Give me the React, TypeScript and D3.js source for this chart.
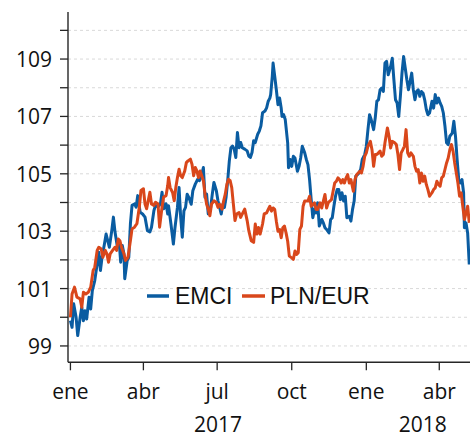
import { useMemo } from "react";
import * as d3 from "d3";

// day offsets from 1 Jan 2017
const emciDays = [0, 2, 4, 7, 9, 12, 14, 16, 18, 20, 23, 25, 27, 30, 33, 35, 37, 39, 42, 44, 46, 48, 51, 53, 55, 58, 60, 62, 64, 66, 67, 70, 72, 74, 76, 79, 81, 83, 86, 89, 92, 95, 98, 100, 103, 105, 108, 111, 113, 115, 118, 120,
  121, 124, 127, 129, 132, 134, 136, 138, 140, 142, 144, 146, 149, 151, 154, 157, 159, 161, 164, 166, 168, 170, 173, 175, 177, 180, 182, 184, 186, 188, 190, 192, 194, 196, 198, 200, 202, 204, 206, 208, 210, 212, 215, 218, 220, 222, 224, 226, 228, 231, 233, 235, 237, 240,
  242, 244, 246, 247, 249, 250, 252, 254, 256, 258, 260, 261, 263, 265, 268, 269, 271, 273, 275, 277, 280, 282, 284, 286, 289, 291, 293, 295, 297, 299, 301, 303, 305, 307, 310, 312, 314, 316, 319, 321, 323, 325, 327, 329, 331, 333, 335, 337, 339, 341, 344, 346, 348, 350, 352, 354, 356, 358, 360,
  363, 365, 367, 369, 371, 374, 376, 378, 380, 382, 384, 386, 388, 390, 392, 395, 397, 399, 401, 403, 405, 407, 409, 411, 413, 415, 417, 419, 421, 423, 425, 427, 429, 431, 433, 435, 437, 439, 441, 443, 446, 448, 450, 452, 454, 456, 458, 460, 462, 464, 466, 468, 471, 473, 475, 477, 479, 481, 483, 485, 486, 488, 490, 492];
const emciValues = [99.88, 99.65, 100.47, 100.0, 99.36, 100.0, 100.35, 99.88, 100.23, 99.94, 100.7, 100.29, 100.93, 101.28, 101.86, 102.27, 101.63, 102.09, 102.56, 102.9, 102.67, 102.44, 103.02, 103.49, 102.97, 102.44, 102.67, 101.92, 102.5, 102.21, 101.34, 101.98, 102.09, 103.26, 103.9, 103.95, 103.84, 104.24, 103.66, 103.6, 103.49, 103.02, 102.97, 103.14, 103.72, 103.9, 103.84, 103.95, 104.36, 103.78, 103.95, 103.6,
  103.89, 103.25, 102.55, 103.13, 103.83, 104.52, 103.48, 102.79, 103.71, 103.83, 104.29, 104.18, 103.94, 104.41, 104.64, 104.81, 104.76, 104.87, 105.22, 104.18, 104.29, 103.6, 103.83, 104.29, 104.7, 104.41, 104.06, 103.83, 103.6, 103.94, 103.83, 104.18, 104.76, 105.45, 105.91, 105.97, 105.86, 105.57, 106.44, 105.91, 106.09, 105.91, 105.86, 105.8, 105.62, 105.57, 105.74, 106.15, 106.09, 106.38, 106.49, 106.67, 107.13, 107.19,
  107.3, 107.53, 107.64, 107.76, 108.4, 108.86, 108.4, 107.93, 107.41, 107.64, 107.29, 107.0, 107.06, 106.89, 106.08, 105.21, 105.5, 105.26, 105.61, 105.55, 105.09, 105.26, 105.55, 105.96, 105.73, 105.5, 105.32, 104.8, 104.1, 103.47, 103.76, 103.64, 103.99, 103.18, 103.41, 103.29, 103.12, 103.06, 102.94, 103.41, 103.47, 103.87, 104.22, 104.45, 104.45, 104.1, 104.34, 104.05, 104.22, 103.47, 103.52, 103.35, 103.76, 104.05, 104.92, 104.97, 105.03, 105.15, 105.5,
  105.67, 105.96, 106.54, 107.06, 106.89, 106.54, 106.95, 107.53, 107.58, 107.93, 107.99, 107.87, 108.86, 108.92, 108.45, 108.74, 109.03, 108.28, 107.58, 107.47, 107.0, 107.7, 108.51, 109.09, 108.69, 108.28, 107.93, 108.22, 108.51, 107.93, 107.58, 107.87, 107.93, 107.7, 107.87, 107.81, 107.58, 107.24, 107.06, 107.12, 107.53, 107.29, 107.76, 107.47, 107.64, 107.47, 107.35, 107.12, 106.66, 106.08, 106.02, 106.31, 106.42, 106.83, 106.31, 105.5, 104.8, 104.68, 104.8, 104.34, 103.12, 103.29, 102.94, 101.84];

const plnDays = [0, 2, 5, 8, 12, 14, 16, 19, 22, 25, 28, 30, 33, 35, 38, 40, 43, 45, 47, 49, 52, 55, 57, 59, 61, 63, 66, 68, 71, 74, 76, 79, 82, 85, 87, 90, 92, 94, 96, 98, 100, 103, 105, 108, 110, 113, 115, 118, 120,
  121, 123, 126, 128, 130, 132, 134, 136, 138, 141, 143, 145, 148, 150, 152, 154, 156, 158, 160, 162, 164, 166, 168, 170, 172, 174, 177, 180, 182, 184, 187, 189, 191, 193, 195, 197, 199, 201, 203, 205, 208, 210, 212, 215, 218, 220, 223, 226, 228, 230, 232, 234, 237, 239,
  242, 244, 246, 248, 250, 252, 254, 256, 258, 260, 262, 264, 266, 268, 270, 273, 275, 277, 279, 281, 283, 285, 287, 289, 291, 293, 295, 297, 299, 301, 303, 305, 308, 310, 312, 314, 316, 318, 320, 322, 324, 326, 328, 330, 332, 334, 336, 338, 340, 342, 344, 346, 349, 351, 353, 355, 357, 359, 361,
  363, 365, 367, 370, 372, 374, 376, 378, 380, 382, 384, 386, 388, 391, 393, 395, 397, 400, 402, 404, 406, 408, 410, 412, 414, 416, 418, 420, 423, 425, 427, 429, 431, 433, 435, 437, 439, 441, 443, 446, 448, 450, 452, 454, 456, 458, 460, 462, 464, 466, 468, 470, 472, 474, 476, 478, 480, 482, 484, 486, 488, 490, 492];
const plnValues = [100.0, 100.81, 101.05, 100.7, 100.64, 100.35, 100.87, 100.81, 100.87, 101.05, 101.63, 101.74, 102.33, 102.44, 102.38, 102.09, 102.33, 102.21, 101.92, 102.21, 102.33, 102.44, 102.33, 102.73, 102.67, 102.44, 102.21, 101.98, 102.09, 102.67, 103.08, 103.14, 103.26, 103.84, 104.42, 104.48, 103.95, 103.78, 104.07, 104.36, 103.95, 103.9, 104.01, 103.95, 103.14, 103.84, 104.19, 104.24, 104.59,
  104.87, 104.52, 104.35, 104.06, 104.52, 104.87, 105.16, 104.93, 104.87, 105.1, 105.39, 105.45, 105.51, 105.33, 104.93, 105.22, 105.1, 104.87, 105.1, 104.93, 104.76, 104.29, 103.94, 103.77, 103.54, 103.94, 104.06, 104.0, 103.83, 103.94, 103.77, 104.06, 104.29, 104.64, 104.81, 104.76, 104.52, 103.94, 103.37, 103.6, 103.65, 103.48, 103.6, 103.77, 103.37, 103.02, 102.67, 102.61, 103.25, 102.9, 103.13, 102.9, 103.25, 103.6,
  103.64, 103.76, 103.87, 103.7, 103.81, 103.76, 103.35, 103.0, 103.06, 102.77, 103.12, 103.18, 102.94, 102.65, 102.13, 102.07, 102.02, 102.31, 102.19, 102.25, 103.06, 103.18, 103.87, 104.05, 104.05, 104.05, 104.22, 103.87, 103.93, 103.99, 103.76, 103.76, 103.99, 103.81, 104.05, 104.28, 103.81, 103.99, 104.05, 104.1, 104.39, 104.68, 104.74, 104.86, 104.8, 104.68, 104.8, 104.68, 104.86, 104.97, 104.68, 104.8, 104.39, 104.8, 104.97, 105.03, 105.09, 105.03, 105.26,
  105.61, 105.73, 105.96, 106.13, 105.84, 105.26, 105.67, 105.67, 105.73, 105.79, 105.61, 105.67, 106.08, 106.6, 106.31, 105.9, 106.13, 106.08, 106.02, 105.67, 105.15, 105.73, 105.84, 105.96, 106.54, 105.73, 105.61, 105.73, 105.61, 105.26, 105.09, 105.15, 104.68, 105.03, 104.74, 104.92, 104.63, 104.45, 104.22, 104.34, 104.45, 104.51, 104.74, 104.63, 104.57, 104.86, 104.92, 105.15, 105.38, 105.55, 105.84, 106.02, 105.79, 105.38, 105.03, 104.68, 104.22, 104.34, 103.87, 103.41, 103.64, 103.87, 103.29];

const seriesNames = ["EMCI", "PLN/EUR"];
const seriesColors = ["#0A5CA1", "#D9471B"];
const monthLabels = ["ene", "abr", "jul", "oct", "ene", "abr"];
const yearLabels = ["2017", "2018"];
const majorTicks = [99, 101, 103, 105, 107, 109];
const minorTicks = [100, 102, 104, 106, 108, 110];

const W = 470;
const H = 437;
const tickFont = "'Segoe UI', 'Open Sans', sans-serif";

export default function App() {
  const start = new Date(2017, 0, 1);
  const x = d3.scaleTime()
    .domain([new Date(2016, 11, 29), new Date(2018, 4, 20)])
    .range([68, 479]);
  const y = d3.scaleLinear().domain([98.43, 110.64]).range([362.3, 12]);

  const series = useMemo(() => [
    emciDays.map((d, i) => ({ date: d3.timeDay.offset(start, d), v: emciValues[i] })),
    plnDays.map((d, i) => ({ date: d3.timeDay.offset(start, d), v: plnValues[i] })),
  ], []);

  const line = d3.line<{ date: Date; v: number }>()
    .x((d) => x(d.date))
    .y((d) => y(d.v));

  const monthTicks = d3.timeMonth.range(new Date(2017, 0, 1), new Date(2018, 4, 2), 3);
  const yearMid = [
    x(new Date(2017, 6, 2)),
    (x(new Date(2018, 0, 1)) + x.range()[1]) / 2,
  ];
  const x0 = x.range()[0];
  const y0 = y.range()[0];

  return (
    <div style={{ position: "absolute", left: 0, top: 0 }}>
      <svg width={W} height={H} style={{ display: "block", overflow: "hidden" }}>
        <rect width={W} height={H} fill="#fff" />
        {/* gridlines */}
        {[...majorTicks, ...minorTicks].map((t) => (
          <line key={"g" + t} x1={x0} x2={W} y1={y(t)} y2={y(t)}
            stroke="#d9d9d9" strokeWidth={1} strokeDasharray="3,3" />
        ))}
        {/* series: EMCI first, PLN/EUR on top */}
        {series.map((s, i) => (
          <path key={seriesNames[i]} d={line(s) ?? ""} fill="none"
            stroke={seriesColors[i]} strokeWidth={3} strokeLinejoin="round" />
        ))}
        {/* y axis */}
        <line x1={x0} x2={x0} y1={12} y2={y0} stroke="#262626" strokeWidth={1.4} />
        {[...majorTicks, ...minorTicks].map((t) => (
          <line key={"yt" + t} x1={60} x2={x0} y1={y(t)} y2={y(t)} stroke="#262626" strokeWidth={1.3} />
        ))}
        {majorTicks.map((t) => (
          <text key={"yl" + t} x={52} y={y(t) + 8} textAnchor="end"
            fontFamily={tickFont} fontSize={21} fill="#111">{t}</text>
        ))}
        {/* x axis */}
        <line x1={x0} x2={W} y1={y0} y2={y0} stroke="#262626" strokeWidth={1.4} />
        {monthTicks.map((m, i) => (
          <g key={"xt" + i}>
            <line x1={x(m)} x2={x(m)} y1={y0} y2={y0 + 8} stroke="#262626" strokeWidth={1.3} />
            <text x={x(m)} y={399} textAnchor="middle" fontFamily={tickFont} fontSize={21} fill="#111">
              {monthLabels[i]}
            </text>
          </g>
        ))}
        {yearLabels.map((yl, i) => (
          <text key={yl} x={yearMid[i]} y={432} textAnchor="middle" fontFamily={tickFont} fontSize={21} fill="#111">
            {yl}
          </text>
        ))}
        {/* legend */}
        <g fontFamily="'Liberation Sans', Arial, sans-serif" fontSize={23} fill="#111">
          <line x1={147} x2={169} y1={296} y2={296} stroke={seriesColors[0]} strokeWidth={3.5} />
          <text x={175} y={303.5}>{seriesNames[0]}</text>
          <line x1={242} x2={265} y1={296} y2={296} stroke={seriesColors[1]} strokeWidth={3.5} />
          <text x={270} y={303.5}>{seriesNames[1]}</text>
        </g>
      </svg>
    </div>
  );
}
